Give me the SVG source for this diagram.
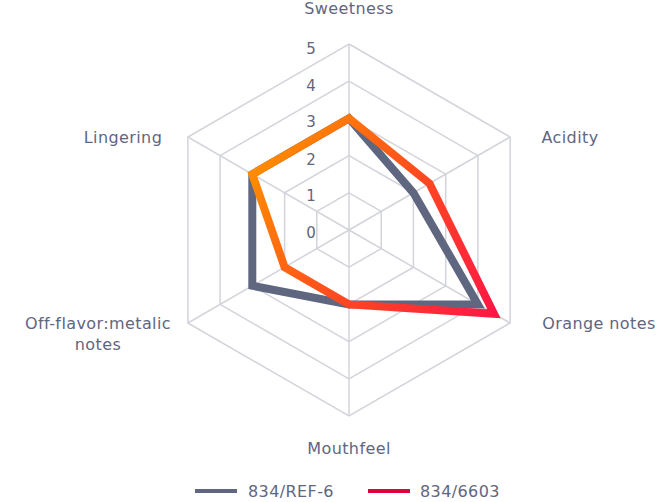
<svg xmlns="http://www.w3.org/2000/svg" width="663" height="502" viewBox="0 0 663 502">
<style>
.grid{fill:none;stroke:#d3d4db;stroke-width:1.5}
.t{font-family:"DejaVu Sans","Liberation Sans",sans-serif;fill:#5f6680;font-size:16px;letter-spacing:0.4px}
.s{font-family:"DejaVu Sans","Liberation Sans",sans-serif;fill:#5f6680;font-size:15px}
.ser{fill:none;stroke-width:8;stroke-linejoin:miter}
</style>
<defs>
<linearGradient id="g" gradientUnits="userSpaceOnUse" x1="260" y1="160" x2="490" y2="320">
<stop offset="0" stop-color="#ff8c00"/><stop offset="0.5" stop-color="#ff4a20"/><stop offset="1" stop-color="#ff1744"/>
</linearGradient>
</defs>
<g id="grid">
<polygon class="grid" points="349,192.8 381.2,211.4 381.2,248.6 349,267.2 316.8,248.6 316.8,211.4"/>
<polygon class="grid" points="349,155.6 413.4,192.8 413.4,267.2 349,304.4 284.6,267.2 284.6,192.8"/>
<polygon class="grid" points="349,118.4 445.7,174.2 445.7,285.8 349,341.6 252.3,285.8 252.3,174.2"/>
<polygon class="grid" points="349,81.2 477.9,155.6 477.9,304.4 349,378.8 220.1,304.4 220.1,155.6"/>
<polygon class="grid" points="349,44 510.1,137 510.1,323 349,416 187.9,323 187.9,137"/>
<path class="grid" d="M349,230V44M349,230L510.1,137M349,230L510.1,323M349,230V416M349,230L187.9,323M349,230L187.9,137"/>
</g>
<g id="scale">
<text class="s" x="311" y="238" text-anchor="middle">0</text>
<text class="s" x="311" y="201" text-anchor="middle">1</text>
<text class="s" x="311" y="165" text-anchor="middle">2</text>
<text class="s" x="311" y="127" text-anchor="middle">3</text>
<text class="s" x="311" y="91" text-anchor="middle">4</text>
<text class="s" x="311" y="54" text-anchor="middle">5</text>
</g>
<g id="series">
<polygon class="ser" stroke="#5f6680" points="349,118.4 413.4,192.8 477.9,304.4 349,304.4 252.3,285.8 252.3,174.2"/>
<polygon class="ser" stroke="url(#g)" points="349,118.4 429.5,183.5 494,313.7 349,304.4 284.6,267.2 252.3,174.2"/>
</g>
<g id="labels">
<text class="t" x="349" y="14" text-anchor="middle">Sweetness</text>
<text class="t" x="570" y="143" text-anchor="middle">Acidity</text>
<text class="t" x="599" y="329" text-anchor="middle">Orange notes</text>
<text class="t" x="349" y="454" text-anchor="middle">Mouthfeel</text>
<text class="t" x="98" y="329" text-anchor="middle">Off-flavor:metalic</text>
<text class="t" x="98" y="350" text-anchor="middle">notes</text>
<text class="t" x="123" y="143" text-anchor="middle">Lingering</text>
</g>
<g id="legend">
<line x1="195" y1="491" x2="237" y2="491" stroke="#5f6680" stroke-width="4"/>
<text class="t" x="248" y="497">834/REF-6</text>
<line x1="368" y1="491" x2="410" y2="491" stroke="#e0003c" stroke-width="4"/>
<text class="t" x="420" y="497">834/6603</text>
</g>
</svg>
